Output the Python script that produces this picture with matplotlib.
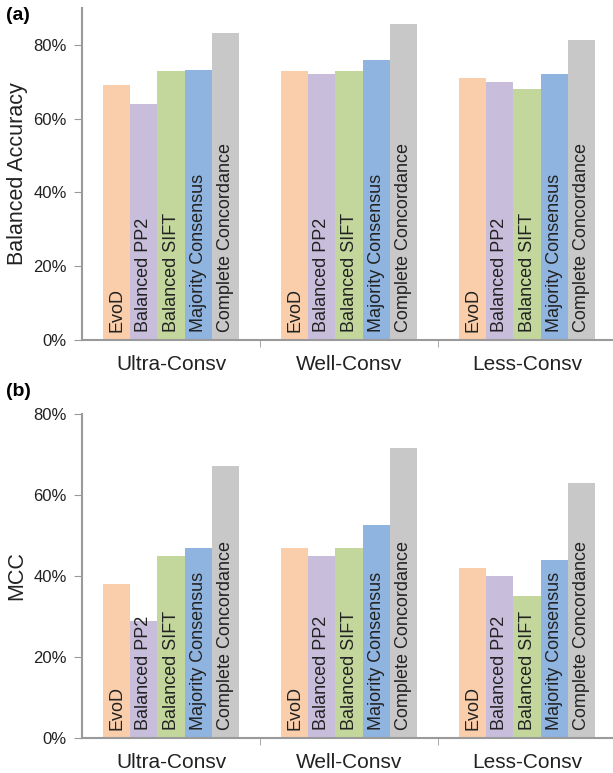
import matplotlib
matplotlib.use('Agg')
import matplotlib.pyplot as plt
import numpy as np

plt.rcParams['font.family'] = ['Liberation Sans', 'DejaVu Sans']

groups = ['Ultra-Consv', 'Well-Consv', 'Less-Consv']
methods = ['EvoD', 'Balanced PP2', 'Balanced SIFT', 'Majority Consensus', 'Complete Concordance']
colors = ['#FBCEAB', '#C9BDDC', '#C3D79D', '#8FB4DF', '#C8C8C8']

# rows: methods, cols: groups (fractions)
bal_acc = [
    [0.69, 0.73, 0.71],
    [0.64, 0.72, 0.70],
    [0.73, 0.73, 0.68],
    [0.731, 0.76, 0.72],
    [0.831, 0.857, 0.814],
]
mcc = [
    [0.38, 0.47, 0.42],
    [0.29, 0.45, 0.40],
    [0.45, 0.47, 0.35],
    [0.468, 0.525, 0.439],
    [0.672, 0.717, 0.63],
]

W, H = 613, 773
fig = plt.figure(figsize=(W / 100, H / 100), dpi=100)

axis_col = '#9a9a9a'
txt_col = '#222222'
bw = 0.153


def draw_panel(ax, data, ymax, ylabel):
    x = np.arange(len(groups))
    for i, (name, col) in enumerate(zip(methods, colors)):
        off = (i - 2) * bw
        ax.bar(x + off, data[i], width=bw, color=col, edgecolor='none')
        for xi in x:
            ax.annotate(name, (xi + off, 0), xytext=(0, 6), textcoords='offset points',
                        rotation=90, ha='center', va='bottom', fontsize=13, color=txt_col)
    ax.set_xlim(-0.5, 2.5)
    ax.set_ylim(0, ymax)
    ax.set_yticks(np.arange(0, 0.81, 0.2))
    ax.set_yticklabels([f'{int(round(v * 100))}%' for v in np.arange(0, 0.81, 0.2)],
                       fontsize=12, color=txt_col)
    ax.set_xticks(x)
    ax.set_xticklabels(groups, fontsize=15, color=txt_col)
    ax.set_xticks([0.5, 1.5], minor=True)
    ax.tick_params(axis='x', which='major', length=0, pad=11)
    ax.tick_params(axis='x', which='minor', length=5, color=axis_col, direction='out')
    ax.tick_params(axis='y', length=6, color=axis_col, direction='out', pad=5)
    ax.set_ylabel(ylabel, fontsize=15.5, color=txt_col, labelpad=4)
    for s in ['top', 'right']:
        ax.spines[s].set_visible(False)
    for s in ['left', 'bottom']:
        ax.spines[s].set_color(axis_col)
        ax.spines[s].set_linewidth(1.5)


ax1 = fig.add_axes([82 / W, 433 / H, 534 / W, 332 / H])
draw_panel(ax1, bal_acc, 0.9, 'Balanced Accuracy')
ax2 = fig.add_axes([82 / W, 35 / H, 534 / W, 324 / H])
draw_panel(ax2, mcc, 0.8, 'MCC')

fig.text(6 / W, 1 - 16 / H, '(a)', fontsize=14, fontweight='bold', va='center', ha='left')
fig.text(6 / W, 1 - 392 / H, '(b)', fontsize=14, fontweight='bold', va='center', ha='left')

fig.savefig('out.png', dpi=100)
